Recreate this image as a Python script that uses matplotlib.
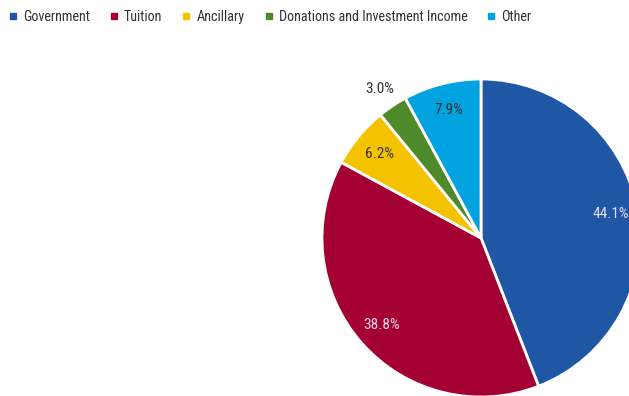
import matplotlib
matplotlib.use('Agg')
import matplotlib.pyplot as plt
from matplotlib.lines import Line2D
import numpy as np

# Revenue shares by source
sources = ['Government', 'Tuition', 'Ancillary', 'Donations and Investment Income', 'Other']
shares = [44.1, 38.8, 6.2, 3.0, 7.9]
colors = ['#1f57a5', '#a50034', '#f5c200', '#4e8a2a', '#00a3e0']
label_colors = ['#e6e0f2', '#f0d8e0', '#333333', '#333333', '#333333']

plt.rcParams['font.family'] = ['Roboto Condensed', 'Archivo Narrow', 'DejaVu Sans']

fig = plt.figure(figsize=(6.29, 3.96), dpi=100)
ax = fig.add_axes([0, 0, 1, 1])

cx, cy, r = 481, 158, 159
wedges, texts, autotexts = ax.pie(
    shares, colors=colors, startangle=90, counterclock=False,
    center=(cx, cy), radius=r, frame=True,
    autopct='%.1f%%', pctdistance=0.83,
    wedgeprops=dict(edgecolor='white', linewidth=2),
    textprops=dict(fontsize=11))
ax.set_xlim(0, 629)
ax.set_ylim(0, 396)
ax.set_aspect('equal')
ax.axis('off')

for t, c in zip(autotexts, label_colors):
    t.set_color(c)

# small slice gets its label outside
w = wedges[3]
mid = np.deg2rad((w.theta1 + w.theta2) / 2)
autotexts[3].set_position((cx + 1.14 * r * np.cos(mid), cy + 1.13 * r * np.sin(mid)))

handles = [Line2D([], [], marker='s', linestyle='', markersize=5, color=c) for c in colors]
fig.legend(handles, sources, loc='upper left', bbox_to_anchor=(-0.006, 1.008),
           ncol=5, frameon=False, fontsize=10.2, handlelength=0.6,
           handletextpad=0.4, columnspacing=1.4, labelcolor='#333333')

fig.savefig('out.png', dpi=100)
